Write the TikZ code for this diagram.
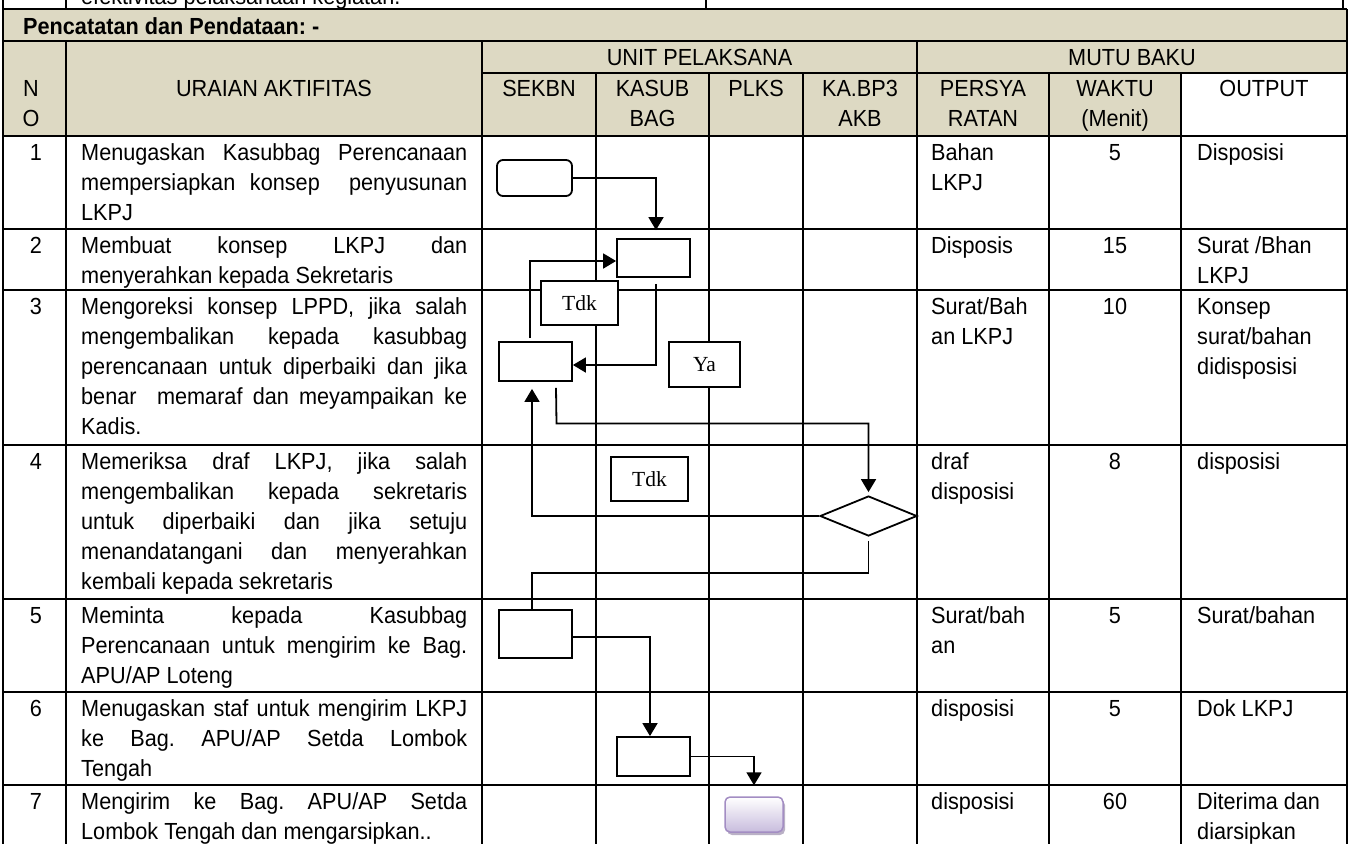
\documentclass[tikz,border=0pt]{standalone}
\usepackage{fontspec}
\setmainfont{Liberation Sans}[FakeStretch=0.93]
\newfontfamily\lblfont{Liberation Serif}
\usetikzlibrary{arrows.meta,shapes.geometric,calc,shadows}
\definecolor{beige}{HTML}{DDD9C3}
\definecolor{lilac}{HTML}{A38DC3}
\definecolor{lilacfill}{HTML}{C8BCDD}
\definecolor{lilacshadow}{HTML}{A99DB8}
\newcommand{\jl}[1]{\makebox[386pt][s]{#1}}
\frenchspacing
\begin{document}
\begin{tikzpicture}[x=1pt,y=-1pt,
  tline/.style={line width=2pt},
  txt/.style={font=\fontsize{23.3}{30}\selectfont, inner sep=0pt, align=left, anchor=base west},
  txtb/.style={font=\fontsize{23.3}{30}\selectfont\bfseries, inner sep=0pt, align=left, anchor=base west},
  ctr/.style={font=\fontsize{23.3}{30}\selectfont, inner sep=0pt, align=center, anchor=base},
  fbox/.style={draw, fill=white, line width=1.8pt, minimum width=73pt, minimum height=38pt, inner sep=0pt},
  lbl/.style={draw, fill=white, line width=1.8pt, inner sep=0pt, font=\lblfont\fontsize{21.5}{24}\selectfont},
  endbox/.style={draw=lilac, line width=1.5pt, rounded corners=5pt, top color=white, bottom color=lilacfill,
     minimum width=58pt, minimum height=35pt, inner sep=0pt,
     drop shadow={shadow xshift=2pt, shadow yshift=-3pt, fill=lilacshadow, opacity=0.8}},
  conn/.style={line width=1.8pt},
  arr/.style={conn, -{Triangle[width=15pt,length=13pt]}},
]
\useasboundingbox (0,0) rectangle (1354,844);
\clip (0,0) rectangle (1354,844);

% ---------- table backgrounds ----------
\fill[beige] (3,9) rectangle (1347,136);
\fill[white] (1181,73) rectangle (1347,136);

% ---------- horizontal rules ----------
\foreach \yy in {9,41,136,229,290,445,599,692,785}
  \draw[tline] (3,\yy) -- (1347,\yy);
\draw[tline] (482,73) -- (1347,73);

% ---------- vertical rules ----------
\draw[line width=2.5pt] (3,0) -- (3,844);
\draw[tline] (66,0) -- (66,9);
\draw[tline] (706,0) -- (706,9);
\draw[tline] (1343,0) -- (1343,9);
\draw[tline] (66,41) -- (66,844);
\draw[tline] (482,41) -- (482,844);
\draw[tline] (917,41) -- (917,844);
\foreach \xx in {596,709,803,1049,1181}
  \draw[tline] (\xx,73) -- (\xx,844);
\draw[tline] (1347,9) -- (1347,844);

% ---------- header texts (multi-line nodes are placed by their last baseline) ----------
\node[txt] (toptext) at (81,4) {efektivitas pelaksanaan kegiatan.};
\node[txtb] (pencatatan) at (23,34) {Pencatatan dan Pendataan: -};
\node[ctr] (hno) at (31,126) {N\\O};
\node[ctr] (huraian) at (274,96) {URAIAN AKTIFITAS};
\node[ctr] (hunit) at (699.5,65) {UNIT PELAKSANA};
\node[ctr] (hmutu) at (1132,65) {MUTU BAKU};
\node[ctr] (hsekbn) at (539,96) {SEKBN};
\node[ctr] (hkasub) at (652.5,126) {KASUB\\BAG};
\node[ctr] (hplks) at (756,96) {PLKS};
\node[ctr] (hka) at (860,126) {KA.BP3\\AKB};
\node[ctr] (hpers) at (983,126) {PERSYA\\RATAN};
\node[ctr] (hwaktu) at (1115,126) {WAKTU\\(Menit)};
\node[ctr] (hout) at (1264,96) {OUTPUT};

% ---------- row 1 ----------
\node[ctr] (n1) at (36,160.5) {1};
\node[txt] (u1) at (81,220.5) {\jl{Menugaskan Kasubbag Perencanaan}\\\jl{mempersiapkan konsep\ \ penyusunan}\\LKPJ};
\node[txt] (p1) at (931,190.5) {Bahan\\LKPJ};
\node[ctr] (w1) at (1115,160.5) {5};
\node[txt] (o1) at (1197,160.5) {Disposisi};
% ---------- row 2 ----------
\node[ctr] (n2) at (36,253.5) {2};
\node[txt] (u2) at (81,283.5) {\jl{Membuat konsep LKPJ dan}\\menyerahkan kepada Sekretaris};
\node[txt] (p2) at (931,253.5) {Disposis};
\node[ctr] (w2) at (1115,253.5) {15};
\node[txt] (o2) at (1197,283.5) {Surat /Bhan\\LKPJ};
% ---------- row 3 ----------
\node[ctr] (n3) at (36,314.5) {3};
\node[txt] (u3) at (81,434.5) {\jl{Mengoreksi konsep LPPD, jika salah}\\\jl{mengembalikan kepada kasubbag}\\\jl{perencanaan untuk diperbaiki dan jika}\\\jl{benar\ \ memaraf dan meyampaikan ke}\\Kadis.};
\node[txt] (p3) at (931,344.5) {Surat/Bah\\an LKPJ};
\node[ctr] (w3) at (1115,314.5) {10};
\node[txt] (o3) at (1197,374.5) {Konsep\\surat/bahan\\didisposisi};
% ---------- row 4 ----------
\node[ctr] (n4) at (36,469.5) {4};
\node[txt] (u4) at (81,589.5) {\jl{Memeriksa draf LKPJ, jika salah}\\\jl{mengembalikan kepada sekretaris}\\\jl{untuk diperbaiki dan jika setuju}\\\jl{menandatangani dan menyerahkan}\\kembali kepada sekretaris};
\node[txt] (p4) at (931,499.5) {draf\\disposisi};
\node[ctr] (w4) at (1115,469.5) {8};
\node[txt] (o4) at (1197,469.5) {disposisi};
% ---------- row 5 ----------
\node[ctr] (n5) at (36,623.5) {5};
\node[txt] (u5) at (81,683.5) {\jl{Meminta kepada Kasubbag}\\\jl{Perencanaan untuk mengirim ke Bag.}\\APU/AP Loteng};
\node[txt] (p5) at (931,653.5) {Surat/bah\\an};
\node[ctr] (w5) at (1115,623.5) {5};
\node[txt] (o5) at (1197,623.5) {Surat/bahan};
% ---------- row 6 ----------
\node[ctr] (n6) at (36,716.5) {6};
\node[txt] (u6) at (81,776.5) {\jl{Menugaskan staf untuk mengirim LKPJ}\\\jl{ke Bag. APU/AP Setda Lombok}\\Tengah};
\node[txt] (p6) at (931,716.5) {disposisi};
\node[ctr] (w6) at (1115,716.5) {5};
\node[txt] (o6) at (1197,716.5) {Dok LKPJ};
% ---------- row 7 ----------
\node[ctr] (n7) at (36,809.5) {7};
\node[txt] (u7) at (81,839.5) {\jl{Mengirim ke Bag. APU/AP Setda}\\Lombok Tengah dan mengarsipkan..};
\node[txt] (p7) at (931,809.5) {disposisi};
\node[ctr] (w7) at (1115,809.5) {60};
\node[txt] (o7) at (1197,839.5) {Diterima dan\\diarsipkan};

% ---------- flowchart shapes ----------
\node[fbox, rounded corners=6pt, minimum width=75pt, minimum height=36pt] (start) at (534.5,178) {};
\node[fbox] (b2) at (653.5,258) {};
\node[fbox, minimum height=39pt] (b3) at (535.5,361.5) {};
\node[draw, fill=white, diamond, line width=1.8pt, minimum width=97pt, minimum height=40pt, inner sep=0pt, shape aspect=2.4] (dec) at (868.5,516) {};
\node[fbox, minimum height=48pt] (b5) at (535.5,634) {};
\node[fbox, minimum height=39pt] (b6) at (653.5,756.5) {};
\node[endbox] (end) at (754,814.5) {};
\coordinate (c1) at (556.5,423.5);
\coordinate (c2) at (532,573);

% ---------- connectors ----------
\draw[arr] (start.east) -| ([xshift=2.5pt,yshift=8pt]b2.north);
\draw[arr] ([xshift=-5.5pt,yshift=3pt]b3.north) |- ([yshift=-3pt]b2.west);
\draw[arr] ([xshift=2.5pt,yshift=-6pt]b2.south) |- ([yshift=-3.5pt]b3.east);
\draw[arr] ([xshift=20.5pt,yshift=-6pt]b3.south) -- (c1) -| ([yshift=3pt]dec.north);
\draw[arr] (dec.west) -| ([xshift=-3.5pt,yshift=-7pt]b3.south);
\draw[conn] ([yshift=-4pt]dec.south) |- (c2) -- ([xshift=-3.5pt]b5.north);
\draw[arr] ([yshift=-3pt]b5.east) -| ([xshift=-3.5pt]b6.north);
\draw[arr] (b6.east) -| ([yshift=11pt]end.north);

% ---------- labels ----------
\node[lbl, minimum width=77pt, minimum height=44pt] (tdk1) at (579.5,303) {Tdk};
\node[lbl, minimum width=71pt, minimum height=45pt] (ya) at (704.5,364.5) {Ya};
\node[lbl, minimum width=77pt, minimum height=44pt] (tdk2) at (649.5,479) {Tdk};
\end{tikzpicture}
\end{document}
